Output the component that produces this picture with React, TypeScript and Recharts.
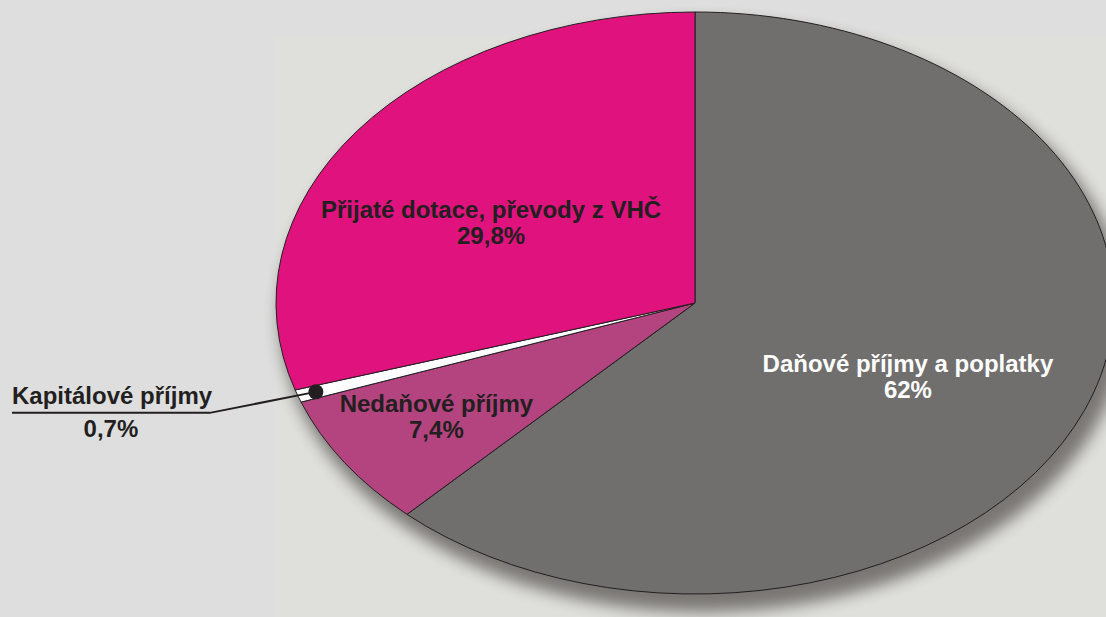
import { Cell, Pie, PieChart } from "recharts";

const categories = [
  "Daňové příjmy a poplatky",
  "Nedaňové příjmy",
  "Kapitálové příjmy",
  "Přijaté dotace, převody z VHČ",
];
const shares = [62, 7.4, 0.7, 29.8];
const colors = ["#706f6e", "#b3447f", "#ffffff", "#e0127e"];
const textColors = ["#ffffff", "#231f20", "#231f20", "#231f20"];

const data = categories.map((name, i) => ({ name, value: shares[i] }));

// the pie is squashed into an ellipse, this is width / height
const X_RATIO = 419 / 291;
const RAD = Math.PI / 180;
const START = 90;
const INK = "#231f20";
const FONT = "'Liberation Sans', Arial, sans-serif";

// where the label sits inside its slice, as fraction of the radius (x, y)
const labelSpot: Record<number, [number, number]> = {
  0: [0.547, 0.644],
  1: [0.738, 0.684],
  3: [0.604, 0.496],
};

function pt(cx: number, cy: number, r: number, angle: number, fx = 1, fy = 1) {
  return {
    x: cx + r * X_RATIO * fx * Math.cos(angle * RAD),
    y: cy - r * fy * Math.sin(angle * RAD),
  };
}

function EllipseSector(props: any) {
  const { cx, cy, outerRadius, startAngle, endAngle, fill, index } = props;
  const rx = outerRadius * X_RATIO;
  const a = pt(cx, cy, outerRadius, startAngle);
  const b = pt(cx, cy, outerRadius, endAngle);
  const large = Math.abs(endAngle - startAngle) > 180 ? 1 : 0;
  const sweep = endAngle < startAngle ? 1 : 0;
  // the first slice is painted first, so it also carries the soft shadow under the whole pie
  const first = index === 0 || Math.abs(startAngle - START) < 0.01;
  return (
    <g>
      {first && (
        <ellipse
          cx={cx + 8}
          cy={cy + 14}
          rx={rx + 4}
          ry={outerRadius + 4}
          fill="#6e6a68"
          opacity={0.9}
          style={{ filter: "blur(8px)" }}
        />
      )}
      <path
        d={`M${cx},${cy} L${a.x},${a.y} A${rx},${outerRadius} 0 ${large} ${sweep} ${b.x},${b.y} Z`}
        fill={fill}
        stroke={INK}
        strokeWidth={1}
        strokeLinejoin="round"
      />
    </g>
  );
}

const fmt = (v: number) => `${String(v).replace(".", ",")}%`;

function renderLabel(props: any) {
  const { cx, cy, midAngle, outerRadius, index } = props;
  const textStyle = { fontFamily: FONT, fontWeight: 700, fontSize: 24 };

  if (index === 2) {
    const dot = pt(cx, cy, outerRadius, midAngle, 0.955, 0.955);
    const elbow = { x: dot.x - 106, y: dot.y + 21 };
    const endX = 12;
    return (
      <g>
        <polyline
          points={`${dot.x},${dot.y} ${elbow.x},${elbow.y} ${endX},${elbow.y}`}
          fill="none"
          stroke={INK}
          strokeWidth={2}
        />
        <circle cx={dot.x} cy={dot.y} r={7.5} fill={INK} />
        <text x={endX} y={elbow.y - 9} fill={INK} style={textStyle}>
          {categories[index]}
        </text>
        <text
          x={(endX + elbow.x) / 2}
          y={elbow.y + 24}
          fill={INK}
          textAnchor="middle"
          style={textStyle}
        >
          {fmt(shares[index])}
        </text>
      </g>
    );
  }

  const [fx, fy] = labelSpot[index];
  const p = pt(cx, cy, outerRadius, midAngle, fx, fy);
  return (
    <text x={p.x} y={p.y} fill={textColors[index]} textAnchor="middle" style={textStyle}>
      <tspan x={p.x}>{categories[index]}</tspan>
      <tspan x={p.x} dy={26}>
        {fmt(shares[index])}
      </tspan>
    </text>
  );
}

export default function App() {
  return (
    <div
      style={{
        position: "fixed",
        left: 0,
        top: 0,
        width: 1106,
        height: 617,
        background: "#dedede",
        overflow: "hidden",
      }}
    >
      <div
        style={{
          position: "absolute",
          left: 274,
          top: 35,
          right: 0,
          bottom: 0,
          background: "#dfe0dc",
        }}
      />
      <div style={{ position: "absolute", left: 0, top: 0 }}>
        <PieChart width={1106} height={617} margin={{ top: 0, right: 0, bottom: 0, left: 0 }}>
          <Pie
            data={data}
            dataKey="value"
            nameKey="name"
            cx={695}
            cy={303}
            outerRadius={291}
            startAngle={START}
            endAngle={START - 360}
            shape={EllipseSector}
            label={renderLabel}
            labelLine={false}
            isAnimationActive={false}
          >
            {data.map((d, i) => (
              <Cell key={d.name} fill={colors[i]} />
            ))}
          </Pie>
        </PieChart>
      </div>
    </div>
  );
}
